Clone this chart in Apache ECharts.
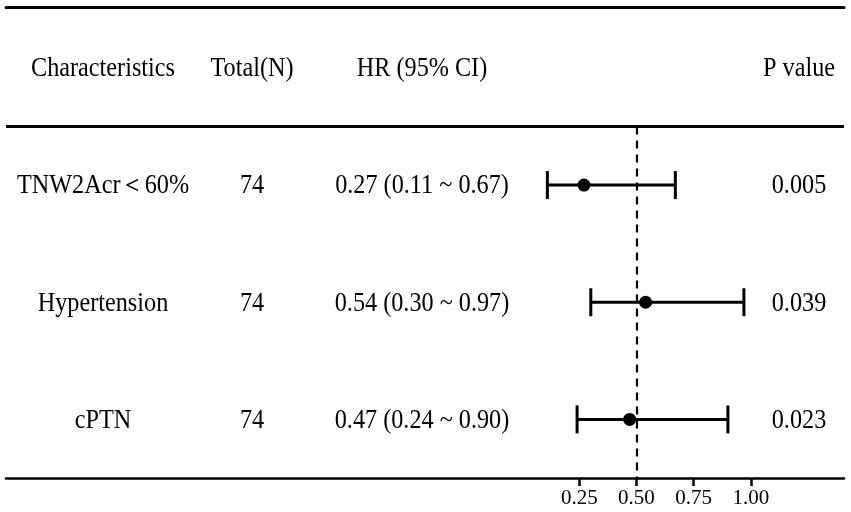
<!DOCTYPE html>
<html>
<head>
<meta charset="utf-8">
<script src="https://cdn.jsdelivr.net/npm/echarts@6/dist/echarts.min.js"></script>
<style>html,body{margin:0;padding:0;background:#fff}#c{width:851px;height:512px}</style>
</head>
<body>
<div id="c"></div>
<script>
// ---- data ----
var headers = ['Characteristics', 'Total(N)', 'HR (95% CI)', 'P value'];
var characteristics = ['TNW2Acr\uFF1C60%', 'Hypertension', 'cPTN'];
var totals = [74, 74, 74];
var hr = [0.27, 0.54, 0.47];
var lower = [0.11, 0.30, 0.24];
var upper = [0.67, 0.97, 0.90];
var pvalues = ['0.005', '0.039', '0.023'];
var tickValues = [0.25, 0.50, 0.75, 1.00];
var refValue = 0.5;

// ---- layout (page pixel columns for table text) ----
var colX = [103, 252, 422, 799];
var FONT = '"Liberation Serif", "Times New Roman", serif';

function hrText(i) {
  return hr[i].toFixed(2) + ' (' + lower[i].toFixed(2) + ' ~ ' + upper[i].toFixed(2) + ')';
}

var textRows = [];
headers.forEach(function (h, c) { textRows.push([colX[c], 0, h]); });
characteristics.forEach(function (name, i) {
  var row = i + 1;
  textRows.push([colX[0], row, name]);
  textRows.push([colX[1], row, String(totals[i])]);
  textRows.push([colX[2], row, hrText(i)]);
  textRows.push([colX[3], row, pvalues[i]]);
});

var ciData = characteristics.map(function (n, i) { return [lower[i], upper[i], i + 1]; });
var pointData = characteristics.map(function (n, i) { return [hr[i], i + 1]; });

var chart = echarts.init(document.getElementById('c'));
chart.setOption({
  animation: false,
  backgroundColor: '#fff',
  grid: { left: 6, right: 7, top: 7, bottom: 34, containLabel: false },
  xAxis: [{
    type: 'value',
    min: -2.259, max: 1.408,
    position: 'bottom',
    splitLine: { show: false },
    axisLine: { show: true, onZero: false, lineStyle: { color: '#000', width: 2.5 } },
    axisTick: { show: true, customValues: tickValues, length: 8, lineStyle: { color: '#000', width: 2.5 } },
    axisLabel: {
      show: true, customValues: tickValues, margin: 10,
      formatter: function (v) { return v.toFixed(2); },
      fontFamily: FONT, fontSize: 21, color: '#000'
    }
  }, {
    type: 'value',
    min: 6, max: 844,
    position: 'top',
    splitLine: { show: false },
    axisLine: { show: true, onZero: false, lineStyle: { color: '#000', width: 3 } },
    axisTick: { show: false },
    axisLabel: { show: false }
  }],
  yAxis: {
    type: 'value', inverse: true, min: -0.52, max: 3.5,
    show: false
  },
  series: [{
    type: 'custom',
    xAxisIndex: 1,
    data: textRows,
    renderItem: function (params, api) {
      var p = api.coord([api.value(0), api.value(1)]);
      return {
        type: 'text',
        x: p[0], y: p[1] + 1,
        scaleX: 0.865,
        style: {
          text: textRows[params.dataIndex][2],
          fontFamily: FONT, fontSize: 28, fill: '#000',
          align: 'center', verticalAlign: 'middle'
        }
      };
    },
    markLine: {
      silent: true, symbol: 'none', label: { show: false },
      lineStyle: { color: '#000', width: 3, type: 'solid', opacity: 1 },
      data: [{ yAxis: 0.5 }]
    },
    z: 5
  }, {
    type: 'custom',
    xAxisIndex: 0,
    data: ciData,
    renderItem: function (params, api) {
      var a = api.coord([api.value(0), api.value(2)]);
      var b = api.coord([api.value(1), api.value(2)]);
      var h = 14;
      var style = { stroke: '#000', lineWidth: 3 };
      return {
        type: 'group',
        children: [
          { type: 'line', shape: { x1: a[0], y1: a[1], x2: b[0], y2: b[1] }, style: style },
          { type: 'line', shape: { x1: a[0], y1: a[1] - h, x2: a[0], y2: a[1] + h }, style: style },
          { type: 'line', shape: { x1: b[0], y1: b[1] - h, x2: b[0], y2: b[1] + h }, style: style }
        ]
      };
    },
    z: 3
  }, {
    type: 'scatter',
    xAxisIndex: 0,
    symbol: 'circle',
    symbolSize: 13,
    itemStyle: { color: '#000', opacity: 1 },
    data: pointData,
    markLine: {
      silent: true, symbol: 'none', label: { show: false },
      lineStyle: { color: '#000', width: 2.2, type: [8, 6], opacity: 1 },
      data: [[{ coord: [refValue, 0.5] }, { coord: [refValue, 3.5] }]]
    },
    z: 4
  }]
});
</script>
</body>
</html>
